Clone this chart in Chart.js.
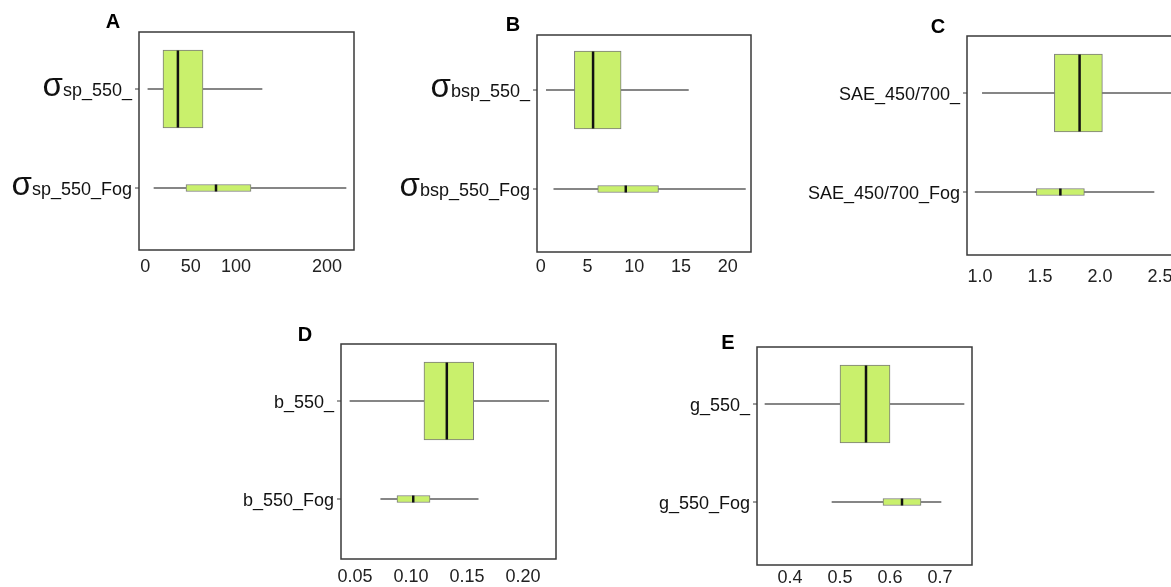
<!DOCTYPE html>
<html>
<head>
<meta charset="utf-8">
<script src="https://cdn.jsdelivr.net/npm/chart.js@4.4.1/dist/chart.umd.min.js"></script>
<style>
    html, body { margin: 0; padding: 0; background: #fff; width: 1171px; height: 587px; overflow: hidden; }
    canvas { position: absolute; left: 0; top: 0; }
</style>
</head>
<body>
<canvas id="chartA" width="1200" height="620"></canvas>
<canvas id="chartB" width="1200" height="620"></canvas>
<canvas id="chartC" width="1200" height="620"></canvas>
<canvas id="chartD" width="1200" height="620"></canvas>
<canvas id="chartE" width="1200" height="620"></canvas>
<script>

// categorias de cada panel
var catA = ['σsp_550_', 'σsp_550_Fog'];
var catB = ['σbsp_550_', 'σbsp_550_Fog'];
var catC = ['SAE_450/700_', 'SAE_450/700_Fog'];
var catD = ['b_550_', 'b_550_Fog'];
var catE = ['g_550_', 'g_550_Fog'];

// [min, q1, mediana, q3, max]
var sigmaSp = [3, 19.6, 36, 63.6, 128.5];
var sigmaSpFog = [9.7, 44.9, 77.9, 116.4, 220.9];
var sigmaBsp = [0.6, 3.6, 5.6, 8.6, 15.8];
var sigmaBspFog = [1.4, 6.1, 9.1, 12.6, 21.9];
var sae = [1.02, 1.62, 1.83, 2.02, 2.72];
var saeFog = [0.96, 1.47, 1.67, 1.87, 2.45];
var b550 = [0.0455, 0.1116, 0.132, 0.156, 0.223];
var b550Fog = [0.073, 0.0875, 0.102, 0.117, 0.160];
var g550 = [0.35, 0.50, 0.552, 0.60, 0.748];
var g550Fog = [0.484, 0.586, 0.624, 0.662, 0.702];

// marcas del eje x
var ticksA = [0, 50, 100, 200];
var ticksB = [0, 5, 10, 15, 20];
var ticksC = [1.0, 1.5, 2.0, 2.5];
var ticksD = [0.05, 0.10, 0.15, 0.20];
var ticksE = [0.4, 0.5, 0.6, 0.7];

var FUENTE = '"Liberation Sans", Arial, sans-serif';
var VERDE = '#c9f06c';

var marcoPlugin = {
    id: 'marco',
    afterDraw: function (chart, args, opts) {
        var ctx = chart.ctx;
        var a = chart.chartArea;
        var ys = chart.scales.y;
        ctx.save();
        ctx.strokeStyle = '#3a3a3a';
        ctx.lineWidth = 1.5;
        ctx.strokeRect(a.left, a.top, a.right - a.left, a.bottom - a.top);

        opts.labels.forEach(function (lab, i) {
            var py = ys.getPixelForValue(i);
            ctx.beginPath();
            ctx.lineWidth = 1;
            ctx.moveTo(a.left - 4, py);
            ctx.lineTo(a.left, py);
            ctx.stroke();

            var rx = a.left - 7;
            var resto = lab;
            if (lab.charAt(0) === 'σ') {
                resto = lab.slice(1);
            }
            ctx.fillStyle = '#111';
            ctx.textAlign = 'right';
            ctx.textBaseline = 'alphabetic';
            ctx.font = '18px ' + FUENTE;
            ctx.fillText(resto, rx, py + 7);
            if (resto !== lab) {
                var w = ctx.measureText(resto).width;
                ctx.font = '33px ' + FUENTE;
                ctx.fillText('σ', rx - w, py + 7);
            }
        });

        ctx.fillStyle = '#000';
        ctx.font = 'bold 20px ' + FUENTE;
        ctx.textAlign = 'center';
        ctx.textBaseline = 'middle';
        ctx.fillText(opts.title, opts.titlePos[0], opts.titlePos[1]);
        ctx.restore();
    }
};

function crearPanel(id, titulo, etiquetas, normal, fog, marcas, decimales, lay) {
    var f = lay.frame; // [left, top, right, bottom]
    var sep = lay.rows[1] - lay.rows[0];
    var yMin = -(lay.rows[0] - f[1]) / sep;
    var yMax = 1 + (f[3] - lay.rows[1]) / sep;
    var alturaEje = 40;

    var ctx = document.getElementById(id).getContext('2d');
    return new Chart(ctx, {
        type: 'bar',
        data: {
            datasets: [{
                label: 'bigotes',
                indexAxis: 'y',
                grouped: false,
                barThickness: 1,
                backgroundColor: '#5e5e5e',
                borderWidth: 0,
                order: 3,
                data: [{ y: 0, x: [normal[0], normal[4]] }, { y: 1, x: [fog[0], fog[4]] }]
            }, {
                label: 'caja',
                indexAxis: 'y',
                grouped: false,
                barThickness: 78,
                backgroundColor: VERDE,
                borderColor: '#7a7a7a',
                borderWidth: 1,
                borderSkipped: false,
                order: 2,
                data: [{ y: 0, x: [normal[1], normal[3]] }]
            }, {
                label: 'caja fog',
                indexAxis: 'y',
                grouped: false,
                barThickness: 7,
                backgroundColor: VERDE,
                borderColor: '#7a7a7a',
                borderWidth: 1,
                borderSkipped: false,
                order: 2,
                data: [{ y: 1, x: [fog[1], fog[3]] }]
            }, {
                type: 'scatter',
                label: 'mediana',
                pointStyle: 'line',
                rotation: 90,
                pointRadius: [38.5, 3.5],
                borderWidth: 2.5,
                borderColor: '#111',
                order: 1,
                data: [{ x: normal[2], y: 0 }, { x: fog[2], y: 1 }]
            }]
        },
        options: {
            responsive: false,
            animation: false,
            events: [],
            layout: {
                autoPadding: false,
                padding: {
                    left: f[0],
                    top: f[1],
                    right: 1200 - f[2],
                    bottom: 620 - alturaEje - f[3]
                }
            },
            plugins: {
                legend: { display: false },
                tooltip: { enabled: false },
                marco: { labels: etiquetas, title: titulo, titlePos: lay.title }
            },
            scales: {
                x: {
                    type: 'linear',
                    offset: false,
                    min: lay.xRange[0],
                    max: lay.xRange[1],
                    grid: { display: false, drawTicks: false, offset: false },
                    border: { display: false },
                    afterBuildTicks: function (scale) {
                        scale.ticks = marcas.map(function (v) { return { value: v }; });
                    },
                    afterFit: function (scale) {
                        scale.height = alturaEje;
                    },
                    ticks: {
                        padding: lay.tickPad,
                        color: '#222',
                        maxRotation: 0,
                        autoSkip: false,
                        font: { family: FUENTE, size: 18 },
                        callback: function (v) { return Number(v).toFixed(decimales); }
                    }
                },
                y: {
                    type: 'linear',
                    display: false,
                    offset: false,
                    reverse: true,
                    min: yMin,
                    max: yMax,
                    grid: { offset: false }
                }
            }
        },
        plugins: [marcoPlugin]
    });
}

crearPanel('chartA', 'A', catA, sigmaSp, sigmaSpFog, ticksA, 0,
    { frame: [139, 32, 354, 250], rows: [89, 188], xRange: [-6.8, 229.7], tickPad: 6, title: [113, 22] });
crearPanel('chartB', 'B', catB, sigmaBsp, sigmaBspFog, ticksB, 0,
    { frame: [537, 35, 751, 252], rows: [90, 189], xRange: [-0.4, 22.5], tickPad: 4, title: [513, 25] });
crearPanel('chartC', 'C', catC, sae, saeFog, ticksC, 1,
    { frame: [967, 36, 1190, 255], rows: [93, 192], xRange: [0.892, 2.75], tickPad: 11, title: [938, 27] });
crearPanel('chartD', 'D', catD, b550, b550Fog, ticksD, 2,
    { frame: [341, 344, 556, 559], rows: [401, 499], xRange: [0.0375, 0.2295], tickPad: 7, title: [305, 335] });
crearPanel('chartE', 'E', catE, g550, g550Fog, ticksE, 1,
    { frame: [757, 347, 972, 565], rows: [404, 502], xRange: [0.334, 0.764], tickPad: 2, title: [728, 343] });

</script>
</body>
</html>
